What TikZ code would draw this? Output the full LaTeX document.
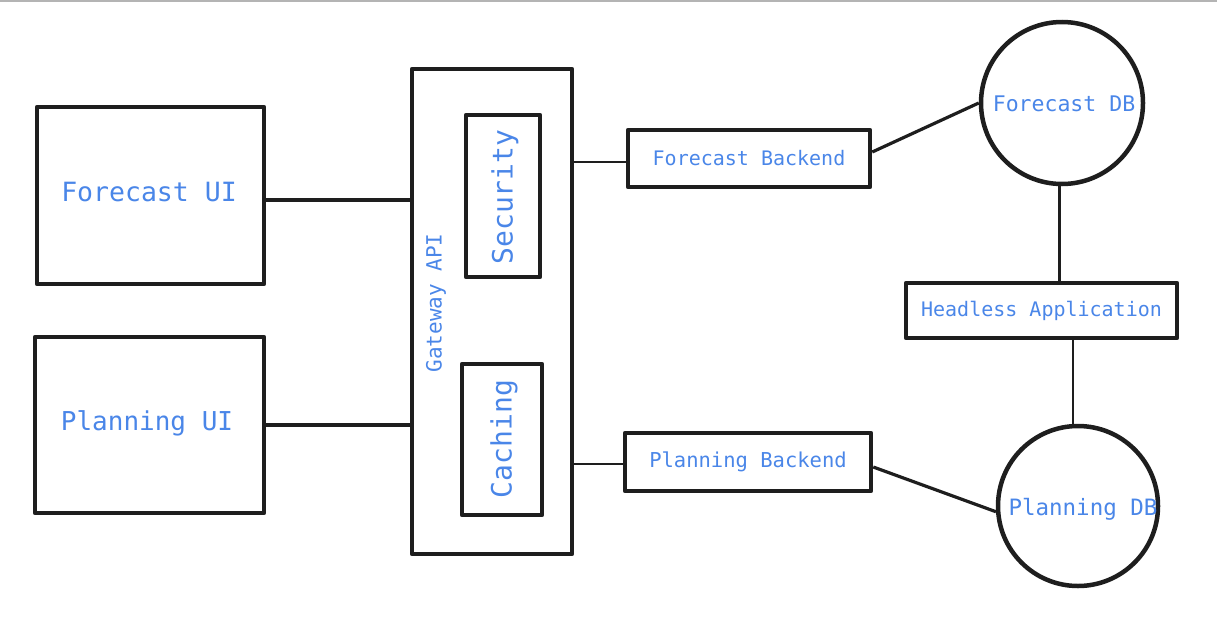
\documentclass[tikz,border=0pt]{standalone}
\usepackage{fontspec}
\setmonofont{DejaVu Sans Mono}
\definecolor{txt}{HTML}{4A86E8}
\definecolor{ink}{HTML}{1E1E1E}
\definecolor{topline}{HTML}{B4B4B4}
\begin{document}
\begin{tikzpicture}[x=1pt,y=-1pt,
  box/.style={draw=ink,line width=4.5pt,line join=round,rectangle,inner sep=0pt,text=txt,font=\ttfamily},
  db/.style={draw=ink,line width=4.5pt,circle,inner sep=0pt,text=txt,font=\ttfamily},
  thick link/.style={draw=ink,line width=3.2pt},
  thin link/.style={draw=ink,line width=1.6pt},
  mid link/.style={draw=ink,line width=2.6pt},
  lbl/.style={text=txt,font=\ttfamily,inner sep=0pt}]
\useasboundingbox (0,0) rectangle (1217,637);
\fill[topline] (0,0) rectangle (1217,2);
% UIs
\node[box,minimum width=227pt,minimum height=177pt] (fui) at (150.5,195.5) {};
\node[lbl,font=\ttfamily\fontsize{26.5}{30}\selectfont] (fuil) at (149,192) {Forecast UI};
\node[box,minimum width=229pt,minimum height=176pt] (pui) at (149.5,425) {};
\node[lbl,font=\ttfamily\fontsize{26}{30}\selectfont] (puil) at (147,423) {Planning UI};
% Gateway
\node[box,minimum width=160pt,minimum height=485pt] (gw) at (492,311.5) {};
\node[lbl,rotate=90,font=\ttfamily\fontsize{21}{24}\selectfont] (gwl) at (436,303) {Gateway API};
\node[box,minimum width=74pt,minimum height=162pt] (sec) at (503,196) {};
\node[lbl,rotate=90,font=\ttfamily\fontsize{28}{32}\selectfont] (secl) at (505,197) {Security};
\node[box,minimum width=80pt,minimum height=151pt] (cac) at (502,439.5) {};
\node[lbl,rotate=90,font=\ttfamily\fontsize{28}{32}\selectfont] (cacl) at (504,439) {Caching};
% Backends
\node[box,minimum width=242pt,minimum height=57pt,font=\ttfamily\fontsize{20}{24}\selectfont] (fb) at (749,158.5) {Forecast Backend};
\node[box,minimum width=246pt,minimum height=58pt,font=\ttfamily\fontsize{20.5}{24}\selectfont] (pb) at (748,462) {Planning Backend};
% DBs and headless app
\node[db,minimum size=162pt] (fdb) at (1062,103) {};
\node[lbl,font=\ttfamily\fontsize{21.5}{24}\selectfont] (fdbl) at (1064,104) {Forecast DB};
\node[db,minimum size=160pt] (pdb) at (1078,506) {};
\node[lbl,font=\ttfamily\fontsize{22.5}{26}\selectfont] (pdbl) at (1083,509) {Planning DB};
\node[box,minimum width=271pt,minimum height=55pt,font=\ttfamily\fontsize{20}{24}\selectfont] (ha) at (1041.5,310.5) {Headless Application};
% connectors
\path ([yshift=-4.5pt]fui.east) coordinate (c1);
\draw[thick link] (c1) -- (c1 -| gw.west);
\draw[thick link] (pui.east) -- (pui.east -| gw.west);
\path ([yshift=-3.5pt]fb.west) coordinate (c2);
\draw[thin link] (c2 -| gw.east) -- (c2);
\path ([yshift=-2pt]pb.west) coordinate (c3);
\draw[thin link] (c3 -| gw.east) -- (c3);
\draw[thick link] ([yshift=6.5pt]fb.east) -- (fdb.west);
\draw[thick link] ([yshift=-5pt]pb.east) -- (pdb.184);
\path ([xshift=-2.5pt]fdb.south) coordinate (c4);
\draw[mid link] (c4) -- (c4 |- ha.north);
\path ([xshift=-5pt]pdb.north) coordinate (c5);
\draw[mid link] (c5 |- ha.south) -- (c5);
\end{tikzpicture}
\end{document}
